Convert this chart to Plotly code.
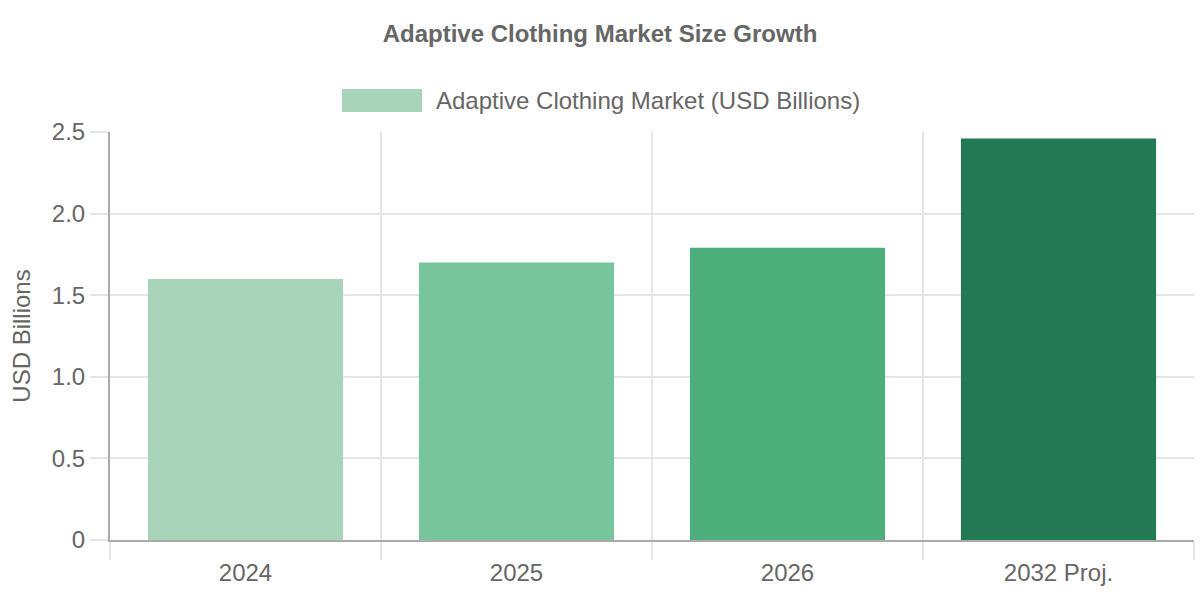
import plotly.graph_objects as go

categories = ["2024", "2025", "2026", "2032 Proj."]
market_size = [1.60, 1.70, 1.79, 2.46]
bar_colors = ["#a8d5ba", "#79c59b", "#4caf7b", "#227a54"]
y_ticks = [0, 0.5, 1.0, 1.5, 2.0, 2.5]
y_tick_labels = ["0", "0.5", "1.0", "1.5", "2.0", "2.5"]
series_name = "Adaptive Clothing Market (USD Billions)"

text_col = "#666666"
grid_col = "#e5e5e5"
axis_col = "#aaaaaa"
font_family = "Liberation Sans, Arial, sans-serif"

fig = go.Figure(go.Bar(
    x=categories,
    y=market_size,
    name=series_name,
    marker=dict(color=bar_colors, line=dict(width=0)),
    width=0.72,
    showlegend=False,
    hovertemplate="%{x}: %{y}<extra></extra>",
))

fig.update_layout(
    width=1200,
    height=600,
    paper_bgcolor="white",
    plot_bgcolor="white",
    margin=dict(l=110, r=6, t=132, b=60),
    font=dict(family=font_family, color=text_col, size=24),
    title=dict(
        text="<b>Adaptive Clothing Market Size Growth</b>",
        x=0.5, xanchor="center",
        y=1 - 34 / 600, yanchor="middle",
        font=dict(size=24, color=text_col),
    ),
    xaxis=dict(
        type="category",
        tickson="boundaries",
        ticks="outside",
        ticklen=18,
        tickwidth=1.5,
        tickcolor=grid_col,
        ticklabelstandoff=10,
        showgrid=True,
        gridcolor=grid_col,
        gridwidth=1.5,
        showline=True,
        linecolor=axis_col,
        linewidth=2,
        tickfont=dict(size=24, color=text_col),
    ),
    yaxis=dict(
        range=[0, 2.5],
        tickvals=y_ticks,
        ticktext=y_tick_labels,
        ticks="outside",
        ticklen=18,
        tickwidth=1.5,
        tickcolor=grid_col,
        showgrid=True,
        gridcolor=grid_col,
        gridwidth=1.5,
        zeroline=False,
        showline=True,
        linecolor=axis_col,
        linewidth=2,
        tickfont=dict(size=24, color=text_col),
        title=dict(text="USD Billions", font=dict(size=24, color=text_col), standoff=14),
    ),
    shapes=[dict(
        type="rect", xref="paper", yref="paper",
        x0=(342 - 110) / 1084, x1=(422 - 110) / 1084,
        y0=1 + (132 - 112) / 408, y1=1 + (132 - 89) / 408,
        fillcolor=bar_colors[0], line=dict(width=0),
    )],
    annotations=[dict(
        text=series_name, xref="paper", yref="paper",
        x=(434 - 110) / 1084, y=1 + (132 - 100.5) / 408,
        xanchor="left", yanchor="middle", showarrow=False,
        font=dict(size=24, color=text_col),
    )],
)

fig.write_html("out.html", config={"displayModeBar": False},
               post_script="document.body.style.margin='0px';")
